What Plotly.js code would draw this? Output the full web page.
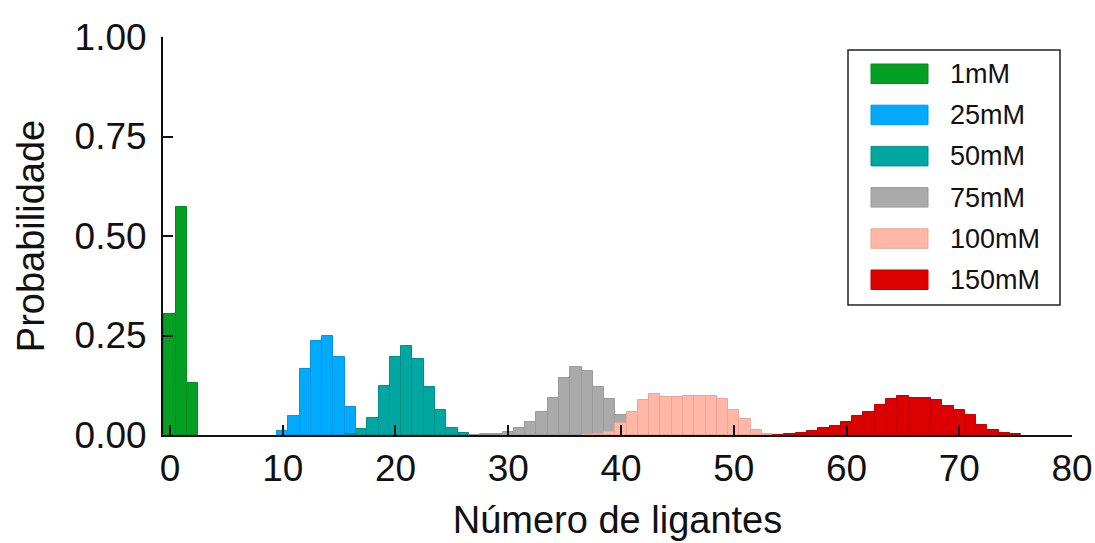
<!DOCTYPE html>
<html>
<head>
<meta charset="utf-8">
<script src="https://cdn.plot.ly/plotly-3.0.1.min.js"></script>
<style>html,body{margin:0;padding:0;background:#fff;}#chart{width:1095px;height:543px;}</style>
</head>
<body>
<div id="chart"></div>
<script>
// ---- data ----
const seriesNames = ["1mM", "25mM", "50mM", "75mM", "100mM", "150mM"];

const x1mM = [0, 1, 2];
const y1mM = [0.304, 0.573, 0.131];

const x25mM = [10, 11, 12, 13, 14, 15, 16, 17];
const y25mM = [0.010, 0.049, 0.165, 0.236, 0.250, 0.197, 0.071, 0.012];

const x50mM = [16, 17, 18, 19, 20, 21, 22, 23, 24, 25, 26];
const y50mM = [0.002, 0.014, 0.042, 0.124, 0.197, 0.224, 0.190, 0.121, 0.064, 0.018, 0.004];

const x75mM = [27, 28, 29, 30, 31, 32, 33, 34, 35, 36, 37, 38, 39, 40, 41, 42, 43];
const y75mM = [0.001, 0.002, 0.002, 0.008, 0.018, 0.032, 0.057, 0.092, 0.142, 0.172, 0.161, 0.121, 0.090, 0.050, 0.032, 0.016, 0.006];

const x100mM = [37, 38, 39, 40, 41, 42, 43, 44, 45, 46, 47, 48, 49, 50, 51, 52, 53, 54];
const y100mM = [0.001, 0.003, 0.008, 0.031, 0.057, 0.088, 0.103, 0.096, 0.096, 0.099, 0.099, 0.099, 0.090, 0.064, 0.039, 0.012, 0.003, 0.001];

const x150mM = [54, 55, 56, 57, 58, 59, 60, 61, 62, 63, 64, 65, 66, 67, 68, 69, 70, 71, 72, 73, 74, 75];
const y150mM = [0.001, 0.003, 0.004, 0.011, 0.017, 0.023, 0.033, 0.047, 0.059, 0.076, 0.090, 0.097, 0.094, 0.094, 0.089, 0.074, 0.063, 0.050, 0.025, 0.013, 0.005, 0.002];

const yTickVals = [0, 0.25, 0.5, 0.75, 1.0];
const xTickVals = [0, 10, 20, 30, 40, 50, 60, 70, 80];

// ---- styles ----
const fills = ["#03A024", "#00AAFF", "#00A6A0", "#AAAAAA", "#FFB8A8", "#DD0000"];
const edges = ["#028A1F", "#0096E0", "#008F8A", "#9A9A9A", "#EBA796", "#C40000"];
const xs = [x1mM, x25mM, x50mM, x75mM, x100mM, x150mM];
const ys = [y1mM, y25mM, y50mM, y75mM, y100mM, y150mM];

const traces = seriesNames.map((n, i) => ({
  type: "bar",
  name: n,
  x: xs[i],
  y: ys[i],
  width: 1,
  marker: { color: fills[i], line: { color: edges[i], width: 1 } },
  hoverinfo: "x+y+name"
}));

const W = 1095, H = 543;
const M = { l: 163, r: 23, t: 37, b: 108 };
const pw = W - M.l - M.r, ph = H - M.t - M.b;
const px2x = p => (p - M.l) / pw;
const py2y = p => (H - M.b - p) / ph;

const FONT = "Liberation Sans, Arial, sans-serif";

// custom legend (box + swatches + labels)
const shapes = [{
  type: "rect", xref: "paper", yref: "paper",
  x0: px2x(848), x1: px2x(1060), y0: py2y(305), y1: py2y(50),
  line: { color: "#222", width: 1.5 }, fillcolor: "rgba(255,255,255,1)", layer: "above"
}];
const annotations = [];
seriesNames.forEach((n, i) => {
  const top = 64 + 41.2 * i;
  shapes.push({
    type: "rect", xref: "paper", yref: "paper",
    x0: px2x(871), x1: px2x(928), y0: py2y(top + 19.5), y1: py2y(top),
    line: { color: edges[i], width: 1 }, fillcolor: fills[i], layer: "above"
  });
  annotations.push({
    xref: "paper", yref: "paper", x: px2x(948), y: py2y(top + 10),
    xanchor: "left", yanchor: "middle", showarrow: false,
    text: n, font: { family: FONT, size: 27, color: "#111" }
  });
});

const layout = {
  width: W, height: H,
  margin: M,
  paper_bgcolor: "#fff", plot_bgcolor: "#fff",
  barmode: "overlay", bargap: 0,
  showlegend: false,
  font: { family: FONT, color: "#111" },
  xaxis: {
    range: [-0.62, 80],
    tickvals: xTickVals,
    ticks: "inside", ticklen: 10, tickwidth: 2, tickcolor: "#111",
    showline: true, linewidth: 2, linecolor: "#111",
    showgrid: false, zeroline: false,
    tickfont: { family: FONT, size: 37, color: "#111" },
    title: { text: "Número de ligantes", font: { family: FONT, size: 38, color: "#111" }, standoff: 18 },
    automargin: false
  },
  yaxis: {
    range: [0, 1],
    tickvals: yTickVals,
    tickformat: ".2f",
    ticks: "inside", ticklen: 10, tickwidth: 2, tickcolor: "#111",
    showline: true, linewidth: 2, linecolor: "#111",
    showgrid: false, zeroline: false,
    ticklabelstandoff: 7,
    tickfont: { family: FONT, size: 37, color: "#111" },
    title: { text: "Probabilidade", font: { family: FONT, size: 38, color: "#111" }, standoff: 18 },
    automargin: false
  },
  shapes: shapes,
  annotations: annotations
};

Plotly.newPlot("chart", traces, layout, { displayModeBar: false, staticPlot: false });
</script>
</body>
</html>
